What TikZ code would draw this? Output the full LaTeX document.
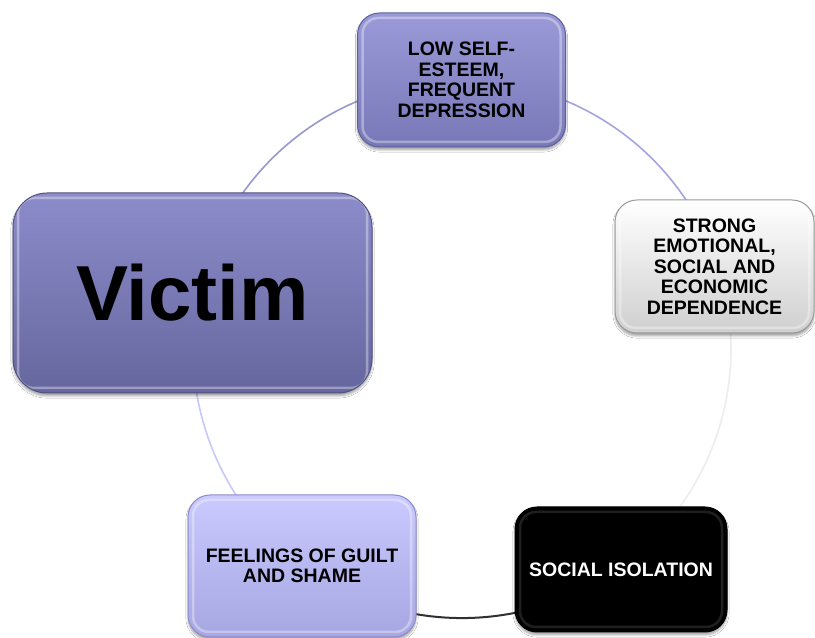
\documentclass[tikz,border=0pt]{standalone}
\usepackage{fontspec}
\setmainfont{Liberation Sans}
\usetikzlibrary{shadows.blur}

% box palette
\definecolor{lavTop}{HTML}{9A9AD8}
\definecolor{lavBot}{HTML}{7878B8}
\definecolor{lavEdge}{HTML}{5E5E9A}
\definecolor{vicTop}{HTML}{8C8CCB}
\definecolor{vicBot}{HTML}{66669E}
\definecolor{vicEdge}{HTML}{52527E}
\definecolor{paleTop}{HTML}{CACAFF}
\definecolor{paleBot}{HTML}{A6A6E2}
\definecolor{paleEdge}{HTML}{8C8CC8}
\definecolor{greyBot}{HTML}{CFCFCF}
\definecolor{greyEdge}{HTML}{9A9A9A}
% ring segment colours
\definecolor{ringVic}{HTML}{9898CC}
\definecolor{ringLav}{HTML}{A4A4E4}
\definecolor{ringGrey}{HTML}{EDEDED}
\definecolor{ringDark}{HTML}{303030}
\definecolor{ringPale}{HTML}{C8C8FA}

\tikzset{
  gloss/.store in=\glossop, gloss=.35,
  cyclebox/.style={
    rounded corners=22pt, inner sep=0pt, align=center,
    font=\bfseries\fontsize{19.5}{20.5}\selectfont,
    line width=1pt,
    blur shadow={shadow xshift=0pt, shadow yshift=-3pt,
                 shadow blur steps=6, shadow opacity=35},
    path picture={
      \draw[white, opacity=\glossop, line width=2.5pt, rounded corners=16pt]
        ([shift={(5pt,-5pt)}]path picture bounding box.north west)
        rectangle
        ([shift={(-5pt,5pt)}]path picture bounding box.south east);
    }
  },
  ringseg/.style={line width=1.6pt, bend left=36, looseness=0.94},
}

\begin{document}
\begin{tikzpicture}[x=1pt,y=1pt]
\useasboundingbox (0,0) rectangle (815,638);
\fill[white] (0,0) rectangle (815,638);

% slots on the ring (centre (462,289), radius 269)
\coordinate (sTop)  at (462,558);
\coordinate (sRight) at (718,372);
\coordinate (sBR)   at (620,71);
\coordinate (sBL)   at (304,71);
\coordinate (sLeft) at (206,372);

% ring segments, clockwise
\draw[ringseg, ringLav]  (sTop)   to (sRight);
\draw[ringseg, ringGrey] (sRight) to (sBR);
\draw[ringseg, ringDark, line width=2pt] (sBR) to (sBL);
\draw[ringseg, ringPale] (sBL)    to (sLeft);
\draw[ringseg, ringVic]  (sLeft)  to (sTop);

% boxes
\node[cyclebox, draw=lavEdge, top color=lavTop, bottom color=lavBot,
      minimum width=208pt, minimum height=134pt] (low) at (461.5,558)
  {LOW SELF-\\ESTEEM,\\FREQUENT\\DEPRESSION};

\node[cyclebox, draw=greyEdge, top color=white, bottom color=greyBot,
      minimum width=199pt, minimum height=133pt] (dep) at (714.5,371.5)
  {STRONG\\EMOTIONAL,\\SOCIAL AND\\ECONOMIC\\DEPENDENCE};

\node[cyclebox, gloss=.12, draw=black, fill=black, text=white,
      minimum width=212pt, minimum height=125pt] (iso) at (621,68.5)
  {SOCIAL ISOLATION};

\node[cyclebox, draw=paleEdge, top color=paleTop, bottom color=paleBot,
      minimum width=228pt, minimum height=142pt] (guilt) at (302,72)
  {FEELINGS OF GUILT\\AND SHAME};

\node[cyclebox, rounded corners=34pt, draw=vicEdge,
      top color=vicTop, bottom color=vicBot,
      font=\bfseries\fontsize{78}{80}\selectfont,
      minimum width=359pt, minimum height=200pt] (victim) at (192.5,345)
  {Victim};

\end{tikzpicture}
\end{document}
